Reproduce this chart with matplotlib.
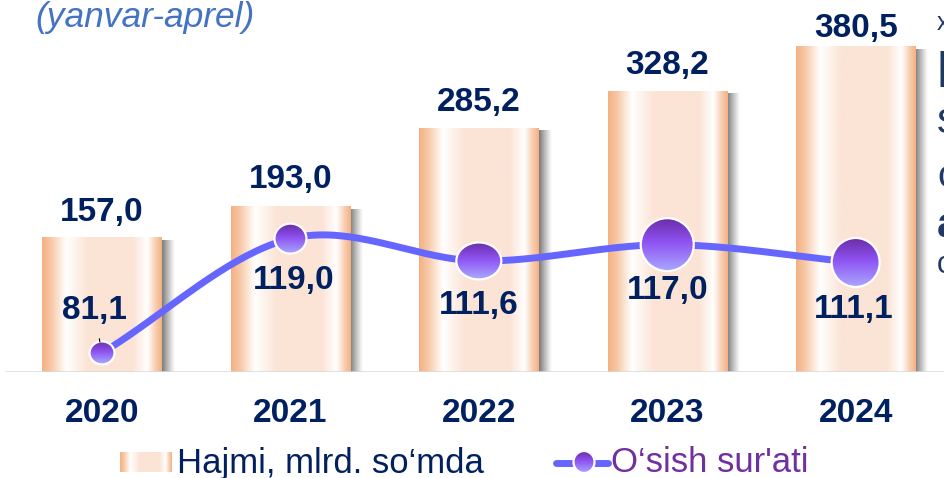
import numpy as np
import matplotlib
matplotlib.use("Agg")
import matplotlib.pyplot as plt
import matplotlib.transforms as mtransforms
from matplotlib.patches import Ellipse
from matplotlib.colors import to_rgb

plt.rcParams['font.family'] = ['Liberation Sans', 'DejaVu Sans']

# ---------------- data ----------------
years = ["2020", "2021", "2022", "2023", "2024"]
volume = [157.0, 193.0, 285.2, 328.2, 380.5]          # Hajmi, mlrd. so'mda
growth = [81.1, 119.0, 111.6, 117.0, 111.1]           # O'sish sur'ati
subtitle = "(yanvar-aprel)"
legend_bar = "Hajmi, mlrd. so\u2018mda"
legend_line = "O\u2018sish sur'ati"
edge_letters = ["x", "h", "s", "c", "a", "c"]

# ---------------- style ----------------
NAVY = "#002060"
PURPLE = "#7030A0"
LINE_C = "#6666FF"
W, H = 944, 478
DPI = 100
marker_px = [(25, 23), (32, 30), (45, 37), (53, 53), (48, 49)]
line_lbl_off_px = [(-8, 42), (3, -42), (0, -45), (0, -46), (-2, -47)]
bar_lbl_gap_px = [17, 19, 17, 17, 10]

fig = plt.figure(figsize=(W / DPI, H / DPI), dpi=DPI)

ax = fig.add_axes([5 / W, 1 - 372 / H, (W - 5) / W, 352 / H])
ax.set_xlim(-0.515, 4.469)
ax.set_ylim(0, 411.7)
ax.set_autoscale_on(False)
ax2 = ax.twinx()
ax2.set_ylim(74.78, 191.49)
ax2.set_autoscale_on(False)
for a in (ax, ax2):
    for s in a.spines.values():
        s.set_visible(False)
ax2.set_yticks([])
ax.set_yticks([])
ax.patch.set_alpha(0)

x = np.arange(len(years))


def hgrad(stops, n=256):
    pos = [p for p, _ in stops]
    cols = np.array([to_rgb(c) for _, c in stops])
    t = np.linspace(0, 1, n)
    arr = np.stack([np.interp(t, pos, cols[:, k]) for k in range(3)], axis=-1)
    return arr[np.newaxis, :, :]


bar_grad = hgrad([(0.0, "#F4B183"), (0.07, "#F7C6A3"), (0.2, "#FFFFFF"),
                  (0.38, "#FBE4D5"), (0.76, "#FBE4D5"), (0.88, "#FFFFFF"),
                  (0.95, "#F8CDB0"), (1.0, "#F4B183")])

# shadow gradient (RGBA)
sh = np.zeros((1, 64, 4))
sh[..., :3] = 0.38
sh[0, :, 3] = np.linspace(0.85, 0.0, 64) ** 1.1

# bars
bars = ax.bar(x, volume, width=0.634, color="none", edgecolor="none", zorder=2)
for b in bars:
    x0, w, h = b.get_x(), b.get_width(), b.get_height()
    ax.imshow(sh, extent=(x0 + w, x0 + w + 0.068, 0, h - 3), aspect="auto",
              interpolation="bilinear", zorder=1)
    ax.imshow(bar_grad, extent=(x0, x0 + w, 0, h), aspect="auto",
              interpolation="bilinear", zorder=2)

# baseline
ax.axhline(0, color="#D9D9D9", lw=1.8, zorder=3)

# bar value labels
for xi, v, g in zip(x, volume, bar_lbl_gap_px):
    ax.annotate(f"{v:.1f}".replace(".", ","), xy=(xi, v), xytext=(0, g * 0.72),
                textcoords="offset points", ha="center", va="baseline",
                fontsize=24, fontweight="bold", color=NAVY, zorder=5)

# x tick labels
ax.set_xticks(x, years)
ax.tick_params(axis="x", length=0, pad=18.5)
for t in ax.get_xticklabels():
    t.set_fontsize(24)
    t.set_fontweight("bold")
    t.set_color(NAVY)

# smooth line (Catmull-Rom through the points)
gx = np.asarray(x, float)
gy = np.asarray(growth, float)
P = np.column_stack([gx, gy])
Pext = np.vstack([2 * P[0] - P[1], P, 2 * P[-1] - P[-2]])
seg = []
for i in range(1, len(Pext) - 2):
    p0, p1, p2, p3 = Pext[i - 1], Pext[i], Pext[i + 1], Pext[i + 2]
    t = np.linspace(0, 1, 40)[:, None]
    c = 0.5 * ((2 * p1) + (-p0 + p2) * t + (2 * p0 - 5 * p1 + 4 * p2 - p3) * t ** 2
               + (-p0 + 3 * p1 - 3 * p2 + p3) * t ** 3)
    seg.append(c)
curve = np.vstack(seg)
ax2.plot(curve[:, 0], curve[:, 1], color=LINE_C, lw=5, solid_capstyle="round", zorder=3)

# marker gradient (vertical)
mg_stops = [(0.0, "#6A2DA6"), (0.45, "#8E52F2"), (1.0, "#A9A9FF")]
mg = hgrad(mg_stops)[0]  # n x 3
mgrad = mg[:, np.newaxis, :]  # rows top->bottom


def grad_marker(axx, xd, yd, wpx, hpx, z):
    trans = fig.dpi_scale_trans + mtransforms.ScaledTranslation(xd, yd, axx.transData)
    wi, hi = wpx / DPI, hpx / DPI
    ell = Ellipse((0, 0), wi, hi, transform=trans, facecolor="none",
                  edgecolor="white", lw=1.6, zorder=z + 1)
    axx.add_patch(ell)
    im = axx.imshow(mgrad, extent=(-wi / 2, wi / 2, -hi / 2, hi / 2), transform=trans,
                    aspect="auto", interpolation="bilinear", origin="upper", zorder=z)
    im.set_clip_path(ell)


for xi, v, (mw, mh) in zip(x, growth, marker_px):
    grad_marker(ax2, xi, v, mw, mh, 4)

# line value labels
for i, (xi, v, (ox, oy)) in enumerate(zip(x, growth, line_lbl_off_px)):
    kw = {}
    if i == 0:
        kw = dict(arrowprops=dict(arrowstyle="-", color="black", lw=0.8,
                                  shrinkA=7, shrinkB=8))
    ax2.annotate(f"{v:.1f}".replace(".", ","), xy=(xi, v), xytext=(ox * 0.72, oy * 0.72),
                 textcoords="offset points", ha="center", va="center",
                 fontsize=24, fontweight="bold", color=NAVY, zorder=6, **kw)

# ---------------- overlay (pixel coordinates) ----------------
ov = fig.add_axes([0, 0, 1, 1])
ov.set_xlim(0, W)
ov.set_ylim(H, 0)
ov.set_autoscale_on(False)
ov.axis("off")
ov.patch.set_alpha(0)

ov.text(35, 1, subtitle, ha="left", va="top", fontsize=25.5, fontstyle="italic",
        color="#4472C4")

# legend: bar entry
ov.imshow(bar_grad, extent=(120, 172, 472, 452), aspect="auto", interpolation="bilinear")
ov.text(177, 463, legend_bar, ha="left", va="center", fontsize=25, color=NAVY)
# legend: line entry
ov.plot([556, 608], [463, 463], color=LINE_C, lw=5, solid_capstyle="round")
grad_marker(ov, 584, 462, 21, 22, 4)
ov.text(611, 463, legend_line, ha="left", va="center", fontsize=25, color=PURPLE)

# clipped letters at right edge (neighbouring text, cut off in the reference too)
edge_y = [30, 87, 133, 187, 237, 273]
edge_fs = [18, 36, 32, 28, 30, 22]
edge_fw = ["normal", "normal", "normal", "normal", "bold", "normal"]
for ch, yy, fs, fw in zip(edge_letters, edge_y, edge_fs, edge_fw):
    ov.text(937, yy, ch, ha="left", va="baseline", fontsize=fs, fontweight=fw,
            color="#1F3864")

fig.savefig("out.png", dpi=DPI)
